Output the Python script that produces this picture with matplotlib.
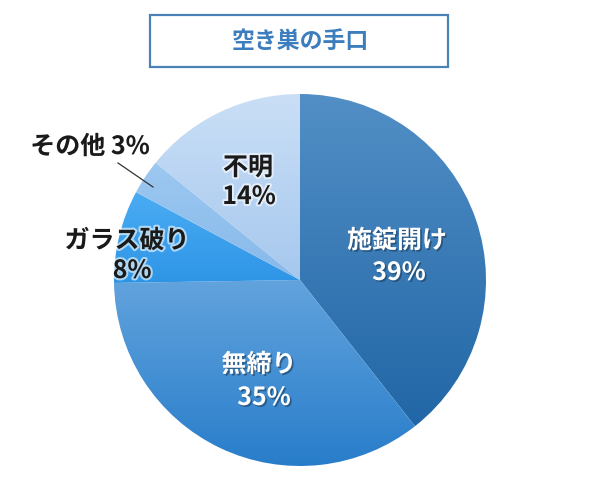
import numpy as np
import matplotlib
matplotlib.use('Agg')
import matplotlib.pyplot as plt
import matplotlib.patheffects as pe
from matplotlib.colors import LinearSegmentedColormap

plt.rcParams['font.family'] = ['Noto Sans CJK JP', 'DejaVu Sans']

title = '空き巣の手口'
labels = ['施錠開け', '無締り', 'ガラス破り', 'その他', '不明']
values = [39, 35, 8, 3, 14]
# gradient colours, top -> bottom of each slice
top_colors = ['#528fc6', '#62a3dd', '#4aacf3', '#9cc8f1', '#cadff6']
bottom_colors = ['#2166a6', '#287dca', '#2e95e6', '#88b9ea', '#a6c8ee']
text_colors = ['white', 'white', '#1a1a1a', '#1a1a1a', '#1a1a1a']

# figure works in pixel units, y up
fig = plt.figure(figsize=(6, 4.8), dpi=100)
ax = fig.add_axes([0, 0, 1, 1])

cx, cy, R = 300, 200, 186
wedges, _ = ax.pie(values, startangle=90, counterclock=False,
                   center=(cx, cy), radius=R,
                   wedgeprops=dict(linewidth=0))

grad = np.linspace(0, 1, 256).reshape(-1, 1)
for w, c0, c1 in zip(wedges, top_colors, bottom_colors):
    w.set_facecolor('none')
    bb = w.get_path().get_extents()
    cmap = LinearSegmentedColormap.from_list('g', [c0, c1])
    im = ax.imshow(grad, cmap=cmap, aspect='auto', origin='upper',
                   extent=(bb.x0, bb.x1, bb.y0, bb.y1), zorder=1)
    im.set_clip_path(w)

ax.set_xlim(0, 600)
ax.set_ylim(0, 480)
ax.axis('off')

# label positions (pixel coords, y up)
label_pos = [(397, 239), (259, 115), (127, 239), (90, 333), (248, 312)]
pct_pos = [(399, 207), (264, 82), (132, 209), None, (249, 283)]

fs = 18
for i, (lab, v) in enumerate(zip(labels, values)):
    col = text_colors[i]
    if col == 'white':
        fx = [pe.SimplePatchShadow(offset=(1.2, -1.2), shadow_rgbFace='#1c3d5c', alpha=0.6), pe.Normal()]
    else:
        fx = [pe.withStroke(linewidth=3, foreground='white', alpha=0.6)]
    if pct_pos[i] is None:
        ax.text(*label_pos[i], f'{lab} {v}%', ha='center', va='center',
                fontsize=fs, fontweight='bold', color=col, path_effects=fx, zorder=5)
    else:
        ax.text(*label_pos[i], lab, ha='center', va='center',
                fontsize=fs, fontweight='bold', color=col, path_effects=fx, zorder=5)
        ax.text(*pct_pos[i], f'{v}%', ha='center', va='center',
                fontsize=fs, fontweight='bold', color=col, path_effects=fx, zorder=5)

# leader line for the small slice
ax.plot([118, 153], [317, 293], color='#333333', lw=0.9, zorder=4)

# title box
ax.add_patch(plt.Rectangle((150, 413), 298, 52, fill=False, edgecolor='#4a82b8', lw=1.6, zorder=5))
ax.text(300, 439, title, ha='center', va='center', fontsize=16.5, fontweight='bold',
        color='#3b7dbd', zorder=5)

fig.savefig('out.png', dpi=100)
